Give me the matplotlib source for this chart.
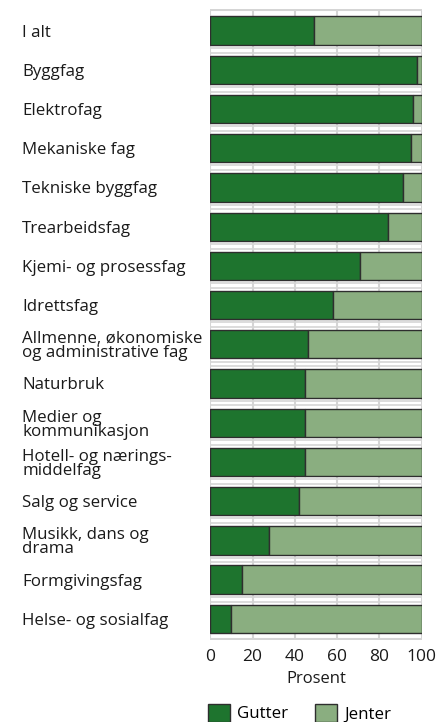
import numpy as np
import matplotlib.pyplot as plt
from matplotlib.patches import Patch
from matplotlib.transforms import blended_transform_factory

plt.rcParams['font.family'] = ['Open Sans', 'DejaVu Sans']

# Data (percent)
categories = [
    "I alt",
    "Byggfag",
    "Elektrofag",
    "Mekaniske fag",
    "Tekniske byggfag",
    "Trearbeidsfag",
    "Kjemi- og prosessfag",
    "Idrettsfag",
    "Allmenne, økonomiske\nog administrative fag",
    "Naturbruk",
    "Medier og\nkommunikasjon",
    "Hotell- og nærings-\nmiddelfag",
    "Salg og service",
    "Musikk, dans og\ndrama",
    "Formgivingsfag",
    "Helse- og sosialfag",
]
gutter = np.array([49, 98, 96, 95, 91, 84, 71, 58, 46, 45, 45, 45, 42, 28, 15, 10])
jenter = 100 - gutter
ticks = [0, 20, 40, 60, 80, 100]

# Colours
dark_green = "#1e742e"
light_green = "#8aae80"
edge_col = "#2e2e2e"
grid_col = "#d5d5d5"
text_col = "#1a1a1a"

W, H = 448, 722
fig = plt.figure(figsize=(W / 100, H / 100), dpi=100)
ax = fig.add_axes([210.3 / W, 82 / H, 211.4 / W, 631 / H])

y = np.arange(len(categories))
ax.barh(y, gutter, height=0.72, color=dark_green, edgecolor=edge_col, lw=1.0, zorder=3)
ax.barh(y, jenter, left=gutter, height=0.72, color=light_green, edgecolor=edge_col, lw=1.0, zorder=3)

# grid: vertical lines plus double horizontal strokes between bars
for t in ticks:
    ax.axvline(t, color=grid_col, lw=1.5, zorder=1)
for i in range(len(categories) - 1):
    for off in (-0.06, 0.06):
        ax.axhline(i + 0.5 + off, color=grid_col, lw=1.2, zorder=1)
ax.axhline(-0.52, color=grid_col, lw=1.5, zorder=1)
ax.axhline(len(categories) - 0.48, color=grid_col, lw=1.5, zorder=1)

ax.set_xlim(0, 100)
ax.set_ylim(len(categories) - 0.46, -0.55)
for s in ax.spines.values():
    s.set_visible(False)

ax.set_yticks([])
ax.set_xticks(ticks)
ax.set_xticklabels([str(t) for t in ticks], fontsize=12.5, color=text_col)
ax.tick_params(axis='x', length=0, pad=6.5)
ax.set_xlabel("Prosent", fontsize=12, color=text_col, labelpad=4)

# category labels, left aligned in the figure margin
trans = blended_transform_factory(fig.transFigure, ax.transData)
for i, lab in enumerate(categories):
    ax.text(22 / W, i + 0.05, lab, transform=trans, ha='left', va='center',
            fontsize=12.2, color=text_col, linespacing=0.82)

handles = [Patch(facecolor=dark_green, edgecolor=edge_col, lw=1.0, label="Gutter"),
           Patch(facecolor=light_green, edgecolor=edge_col, lw=1.0, label="Jenter")]
fig.legend(handles=handles, loc='center left', bbox_to_anchor=(208 / W, 1 - 713 / H),
           ncol=2, frameon=False, fontsize=12.2, handlelength=1.3, handleheight=1.3,
           handletextpad=0.4, columnspacing=1.6, borderpad=0, borderaxespad=0)

fig.savefig("out.png", dpi=100)
